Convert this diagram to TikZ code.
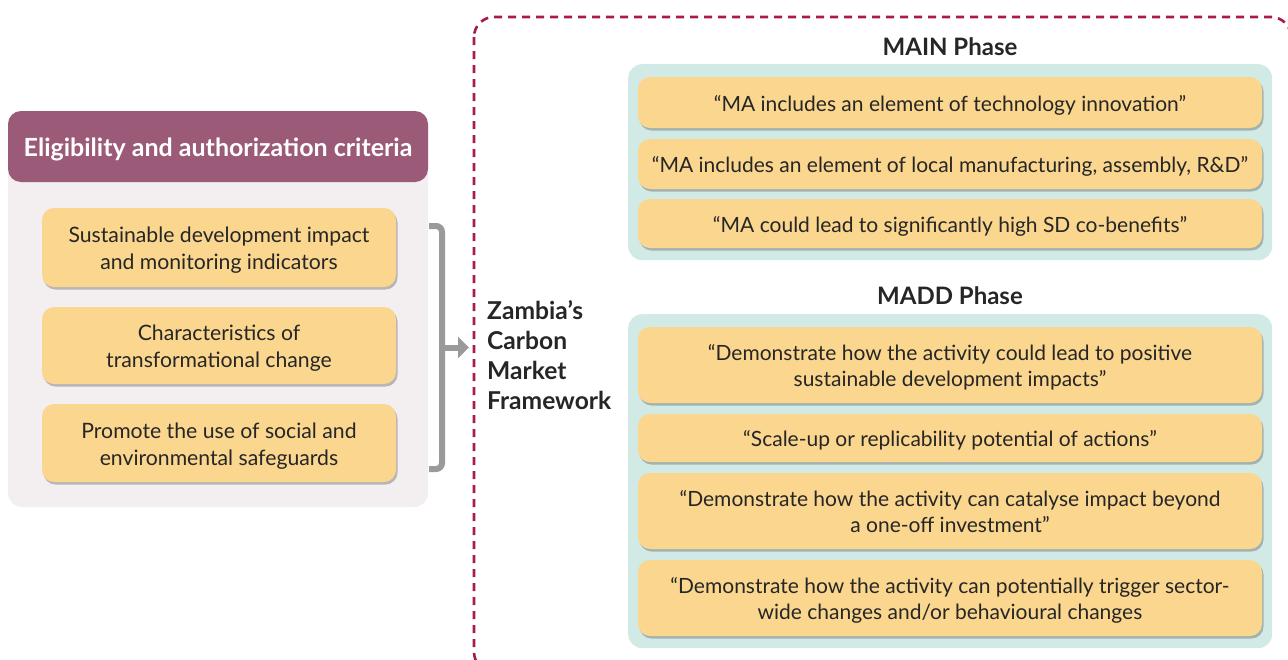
\documentclass[tikz,border=0pt]{standalone}
\usepackage{fontspec}
\setmainfont{Lato}
\usetikzlibrary{arrows.meta,shadows}
\definecolor{plum}{HTML}{9B5A78}
\definecolor{blush}{HTML}{F3EEF0}
\definecolor{sand}{HTML}{FAD68E}
\definecolor{mint}{HTML}{D2EAE5}
\definecolor{crimson}{HTML}{A81C45}
\definecolor{slate}{HTML}{9A9A9A}
\definecolor{ink}{HTML}{262626}
% fixed line box so every card centres its text the same way
\newcommand\cs{\rule[-4pt]{0pt}{25pt}}
\newcommand\headstrut{\rule[-5pt]{0pt}{29pt}}
\begin{document}
\begin{tikzpicture}[x=1pt,y=-1pt,
  every node/.style={text=ink, inner sep=0pt},
  panel/.style={fill=blush, rounded corners=14pt},
  header/.style={fill=plum, rounded corners=13pt, text=white,
    font=\bfseries\fontsize{25}{29}\selectfont,
    execute at begin node=\headstrut},
  tealpanel/.style={fill=mint, rounded corners=14pt, minimum width=644, anchor=north west},
  card/.style={fill=sand, rounded corners=12pt, align=center,
    drop shadow={shadow xshift=1.5pt, shadow yshift=-2.5pt, opacity=0.35, fill=black!70},
    font=\fontsize{21.2}{27}\selectfont},
  leftcard/.style={card, minimum width=354},
  rightcard/.style={card, minimum width=624, font=\fontsize{21}{26}\selectfont},
  phase/.style={font=\bfseries\fontsize{24}{28}\selectfont},
  frame/.style={draw=crimson, line width=2.6pt, dash pattern=on 8pt off 6pt, rounded corners=20pt},
  brace/.style={draw=slate, line width=6pt, rounded corners=6pt},
]
\useasboundingbox (0,0) rectangle (1288,659);

% dashed frame around the framework side, running off the page edges
\begin{scope}
  \clip (0,0) rectangle (1288,659);
  \draw[frame] (474,17) rectangle (1291,672);
\end{scope}

% criteria column
\node[panel, minimum width=420, minimum height=396] (critpanel) at (218,309) {};
\node[header, minimum width=420, minimum height=71] (crithead) at (218,146.5)
  {Eligibility and authorization criteria};
\node[leftcard, minimum height=79] (crit1) at (219,247.5)
  {\cs Sustainable development impact\\and monitoring indicators\cs};
\node[leftcard, minimum height=77] (crit2) at (219,345.5)
  {\cs Characteristics of\\transformational change\cs};
\node[leftcard, minimum height=78] (crit3) at (219,443)
  {\cs Promote the use of social and\\environmental safeguards\cs};

% framework label
\node[anchor=west, align=left, font=\bfseries\fontsize{24.6}{30}\selectfont] (zambia) at (487,355)
  {Zambia’s\\Carbon\\Market\\Framework};

% brace gathering the criteria, pointing at the framework
\coordinate (bracetop) at (429,226);
\coordinate (bracebot) at (429,469);
\coordinate (bracemid) at (442,347.5);
\coordinate (bracetip) at (469,347.5);
\draw[brace] (bracetop) -- (442,226) -- (442,469) -- (bracebot);
\draw[draw=slate, line width=6pt, -{Triangle[length=11pt,width=21pt]}] (bracemid) -- (bracetip);

% MAIN phase
\node[phase] (maintitle) at (950,47) {MAIN Phase};
\node[tealpanel, minimum height=196] (mainpanel) at (628,64) {};
\node[rightcard, minimum height=51] (main1) at (950,102.5)
  {\cs “MA includes an element of technology innovation”\cs};
\node[rightcard, minimum height=50] (main2) at (950,164)
  {\cs “MA includes an element of local manufacturing, assembly, R\&D”\cs};
\node[rightcard, minimum height=49] (main3) at (950,223.5)
  {\cs “MA could lead to significantly high SD co-benefits”\cs};

% MADD phase
\node[phase] (maddtitle) at (950,296) {MADD Phase};
\node[tealpanel, minimum height=334] (maddpanel) at (628,314) {};
\node[rightcard, minimum height=76] (madd1) at (950,365)
  {\cs “Demonstrate how the activity could lead to positive\\sustainable development impacts”\cs};
\node[rightcard, minimum height=48] (madd2) at (950,438)
  {\cs “Scale-up or replicability potential of actions”\cs};
\node[rightcard, minimum height=76] (madd3) at (950,511)
  {\cs “Demonstrate how the activity can catalyse impact beyond\\a one-off investment”\cs};
\node[rightcard, minimum height=76] (madd4) at (950,598)
  {\cs “Demonstrate how the activity can potentially trigger sector-\\wide changes and/or behavioural changes\cs};
\end{tikzpicture}
\end{document}
